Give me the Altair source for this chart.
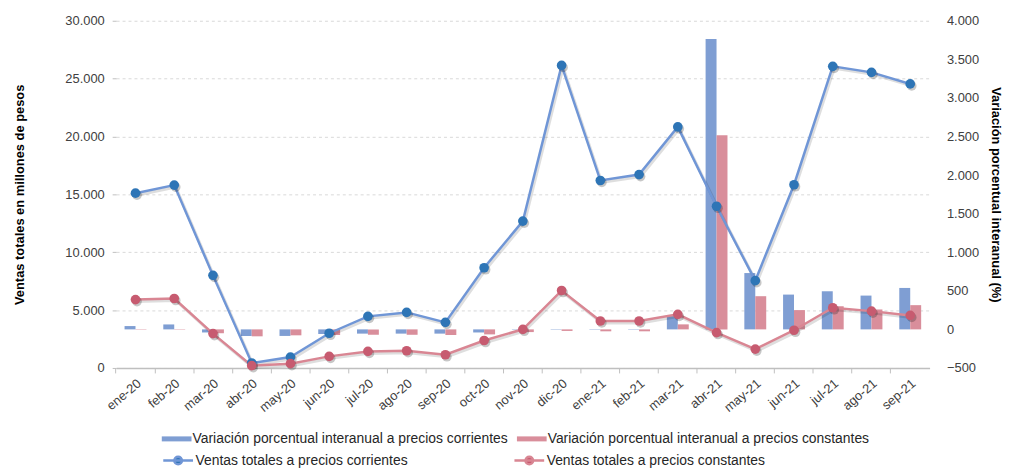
import altair as alt
import pandas as pd

# ---------------- data ----------------
months = ["ene-20", "feb-20", "mar-20", "abr-20", "may-20", "jun-20", "jul-20",
          "ago-20", "sep-20", "oct-20", "nov-20", "dic-20", "ene-21", "feb-21",
          "mar-21", "abr-21", "may-21", "jun-21", "jul-21", "ago-21", "sep-21"]

ventas_corrientes = [15100, 15800, 8000, 430, 940, 3000, 4460, 4800, 3940, 8660,
                     12690, 26140, 16200, 16710, 20830, 13970, 7540, 15830, 26060,
                     25540, 24540]
ventas_constantes = [5910, 6000, 2970, 200, 370, 1000, 1430, 1490, 1140, 2370,
                     3340, 6690, 4060, 4060, 4630, 3060, 1630, 3260, 5200, 4910, 4540]

var_corrientes = [43, 64, -40, -86, -85, -60, -55, -55, -55, -40, -5, -5, 5, 5,
                  172, 3765, 730, 451, 494, 438, 537]
var_constantes = [5, 5, -50, -90, -77, -73, -70, -70, -73, -65, -35, -20, -25, -25,
                  65, 2517, 430, 250, 300, 258, 314]

bar_series = ["Variación porcentual interanual a precios corrientes",
              "Variación porcentual interanual a precios constantes"]
line_series = ["Ventas totales a precios corrientes",
               "Ventas totales a precios constantes"]

bar_colors = ["#7f9ed3", "#d98e9b"]
line_colors = ["#7096d6", "#d98693"]
point_colors = ["#2e75b6", "#c75b70"]

FONT = "Liberation Sans"
n = len(months)

bars_df = pd.DataFrame({
    "mes": months * 2,
    "serie": [bar_series[0]] * n + [bar_series[1]] * n,
    "valor": var_corrientes + var_constantes,
})
lines_df = pd.DataFrame({
    "mes": months * 2,
    "serie": [line_series[0]] * n + [line_series[1]] * n,
    "ventas": ventas_corrientes + ventas_constantes,
})

label_expr = "replace(format(datum.value, ','), ',', '.')"

x_enc = alt.X(
    "mes:N", sort=months,
    scale=alt.Scale(paddingInner=0, paddingOuter=0),
    axis=alt.Axis(title=None, labelAngle=-40, bandPosition=0,
                  labelFont=FONT, labelFontSize=13, labelColor="#404040",
                  domainColor="#bfbfbf", domainWidth=1.5, tickColor="#bfbfbf",
                  tickSize=5, labelPadding=4, grid=False),
)

y_left = alt.Y(
    "ventas:Q",
    scale=alt.Scale(domain=[0, 30000], nice=False),
    axis=alt.Axis(orient="left", values=list(range(0, 30001, 5000)),
                  title="Ventas totales en millones de pesos",
                  titleFont=FONT, titleFontSize=13, titleFontWeight="bold",
                  titleColor="#000000", titlePadding=39,
                  labelExpr=label_expr, labelFont=FONT, labelFontSize=13,
                  labelColor="#404040", labelPadding=8,
                  grid=True, gridDash=[3, 3], gridColor="#d9d9d9",
                  domain=False, tickColor="#bfbfbf", tickSize=4),
)

BAR_PATH = "M-2.14,-0.36H2.14V0.36H-2.14Z"
LINE_PATH = "M-2.14,0H2.14M0.55,0A0.55,0.55,0,1,1,-0.55,0A0.55,0.55,0,1,1,0.55,0"

common_leg = dict(title=None, orient="none", columns=2, symbolSize=196,
                  labelOffset=9, labelLimit=600, labelFont=FONT,
                  labelFontSize=14, labelColor="#262626", padding=0)

bar_legend = alt.Legend(legendX=54, legendY=414.5, columnPadding=8,
                        symbolType=BAR_PATH, symbolStrokeWidth=0,
                        symbolOpacity=1, **common_leg)
line_legend = alt.Legend(legendX=54, legendY=434.5, columnPadding=101,
                         symbolType=LINE_PATH, symbolStrokeWidth=2.5,
                         symbolOpacity=1, **common_leg)

bars = alt.Chart(bars_df).mark_bar(xOffset=2).encode(
    x=x_enc,
    xOffset=alt.XOffset("serie:N", sort=bar_series,
                        scale=alt.Scale(paddingInner=0, paddingOuter=0.77)),
    y=alt.Y("valor:Q",
            scale=alt.Scale(domain=[-500, 4000], nice=False, zero=False),
            axis=alt.Axis(orient="right", values=list(range(-500, 4001, 500)),
                          title="Variación porcentual interanual (%)",
                          titleFont=FONT, titleFontSize=13, titleFontWeight="bold",
                          titleColor="#000000", titlePadding=10,
                          labelExpr=label_expr, labelFont=FONT, labelFontSize=13,
                          labelColor="#404040", labelPadding=17,
                          grid=False, domain=False, ticks=False)),
    color=alt.Color("serie:N", sort=bar_series,
                    scale=alt.Scale(domain=bar_series, range=bar_colors),
                    legend=bar_legend),
)

base = alt.Chart(lines_df)
stroke_enc = alt.Stroke("serie:N", sort=line_series,
                        scale=alt.Scale(domain=line_series, range=line_colors),
                        legend=line_legend)
fill_enc = alt.Fill("serie:N", sort=line_series,
                    scale=alt.Scale(domain=line_series, range=point_colors),
                    legend=line_legend)

shadow_l = base.mark_line(color="#000000", opacity=0.13, strokeWidth=3,
                          xOffset=1.5, yOffset=2).encode(
    x=x_enc, y=y_left, detail="serie:N")
line = base.mark_line(strokeWidth=2.5).encode(x=x_enc, y=y_left, stroke=stroke_enc)
shadow_p = base.mark_circle(color="#000000", opacity=0.22, size=95,
                            xOffset=1.5, yOffset=2).encode(x=x_enc, y=y_left)
pts = base.mark_circle(opacity=1, size=95).encode(x=x_enc, y=y_left, fill=fill_enc)

lines = alt.layer(shadow_l, line, shadow_p, pts)

chart = alt.layer(bars, lines).resolve_scale(y="independent").properties(
    width=820, height=350,
    autosize=alt.AutoSizeParams(type="none"),
    padding={"left": 109, "top": 11, "right": 74, "bottom": 100},
    background="white",
).configure_view(stroke=None)

chart.save("out.html", embed_options={"renderer": "svg", "actions": False})
